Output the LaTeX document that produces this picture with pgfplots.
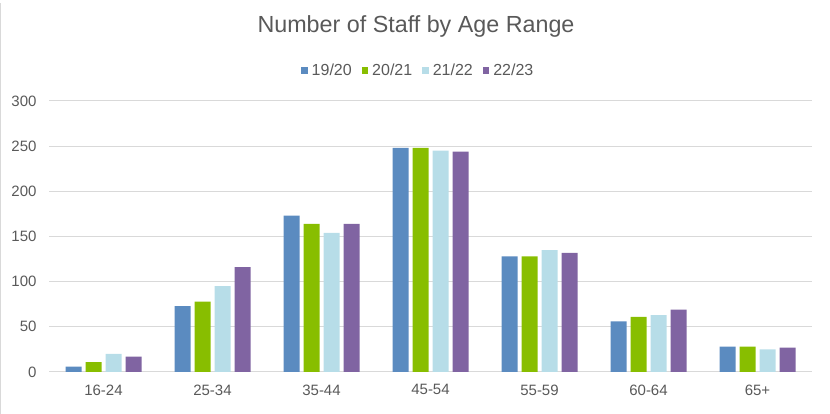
\documentclass[border=0pt]{standalone}
\usepackage{fontspec}
\setmainfont{Liberation Sans}
\usepackage{pgfplots}
\pgfplotsset{compat=1.18}
\definecolor{cA}{HTML}{5B8BC0}
\definecolor{cB}{HTML}{88BE00}
\definecolor{cC}{HTML}{B7DDE8}
\definecolor{cD}{HTML}{8064A2}
\definecolor{txt}{HTML}{595959}
\definecolor{grd}{HTML}{D9D9D9}
\begin{document}
\begin{tikzpicture}[x=1pt,y=1pt]
\useasboundingbox (0,0) rectangle (830,414);
\draw[grd,line width=0.8pt] (0.5,0) -- (0.5,411);
\begin{axis}[
  at={(49pt,42pt)}, anchor=south west,
  scale only axis, width=763pt, height=271pt,
  ybar=4pt, bar width=16pt,
  xmin=-0.5, xmax=6.5, ymin=0, ymax=300,
  ytick={0,50,...,300},
  xtick={0,...,6},
  xticklabels={16-24,25-34,35-44,45-54,55-59,60-64,65+},
  ymajorgrids, grid style={grd,line width=1pt},
  axis line style={draw=none},
  major tick length=0pt,
  tick label style={font=\fontsize{15}{17}\selectfont, text=txt},
  /pgf/number format/assume math mode=true,
  yticklabel style={xshift=-9pt},
  xticklabel style={yshift=-9pt},
  title={Number of Staff by Age Range},
  title style={at={(axis description cs:0.481,1.23)}, anchor=base, yshift=0pt, font=\fontsize{23.3}{26}\selectfont, text=txt},
  legend columns=-1,
  legend style={at={(axis description cs:0.484,1.112)}, anchor=center, draw=none, fill=none,
     font=\fontsize{16}{18}\selectfont, text=txt,
     /tikz/every odd column/.append style={column sep=2pt},
     /tikz/every even column/.append style={column sep=8pt}},
  legend image code/.code={\fill[#1] (0pt,-3pt) rectangle (6.5pt,3.5pt);},
]
\addplot[fill=cA,draw=none] coordinates {(0,6) (1,73) (2,173) (3,248) (4,128) (5,56) (6,28)};
\addplot[fill=cB,draw=none] coordinates {(0,11) (1,78) (2,164) (3,248) (4,128) (5,61) (6,28)};
\addplot[fill=cC,draw=none] coordinates {(0,20) (1,95) (2,154) (3,245) (4,135) (5,63) (6,25)};
\addplot[fill=cD,draw=none] coordinates {(0,17) (1,116) (2,164) (3,244) (4,132) (5,69) (6,27)};
\legend{19/20,20/21,21/22,22/23}
\end{axis}
\end{tikzpicture}
\end{document}
